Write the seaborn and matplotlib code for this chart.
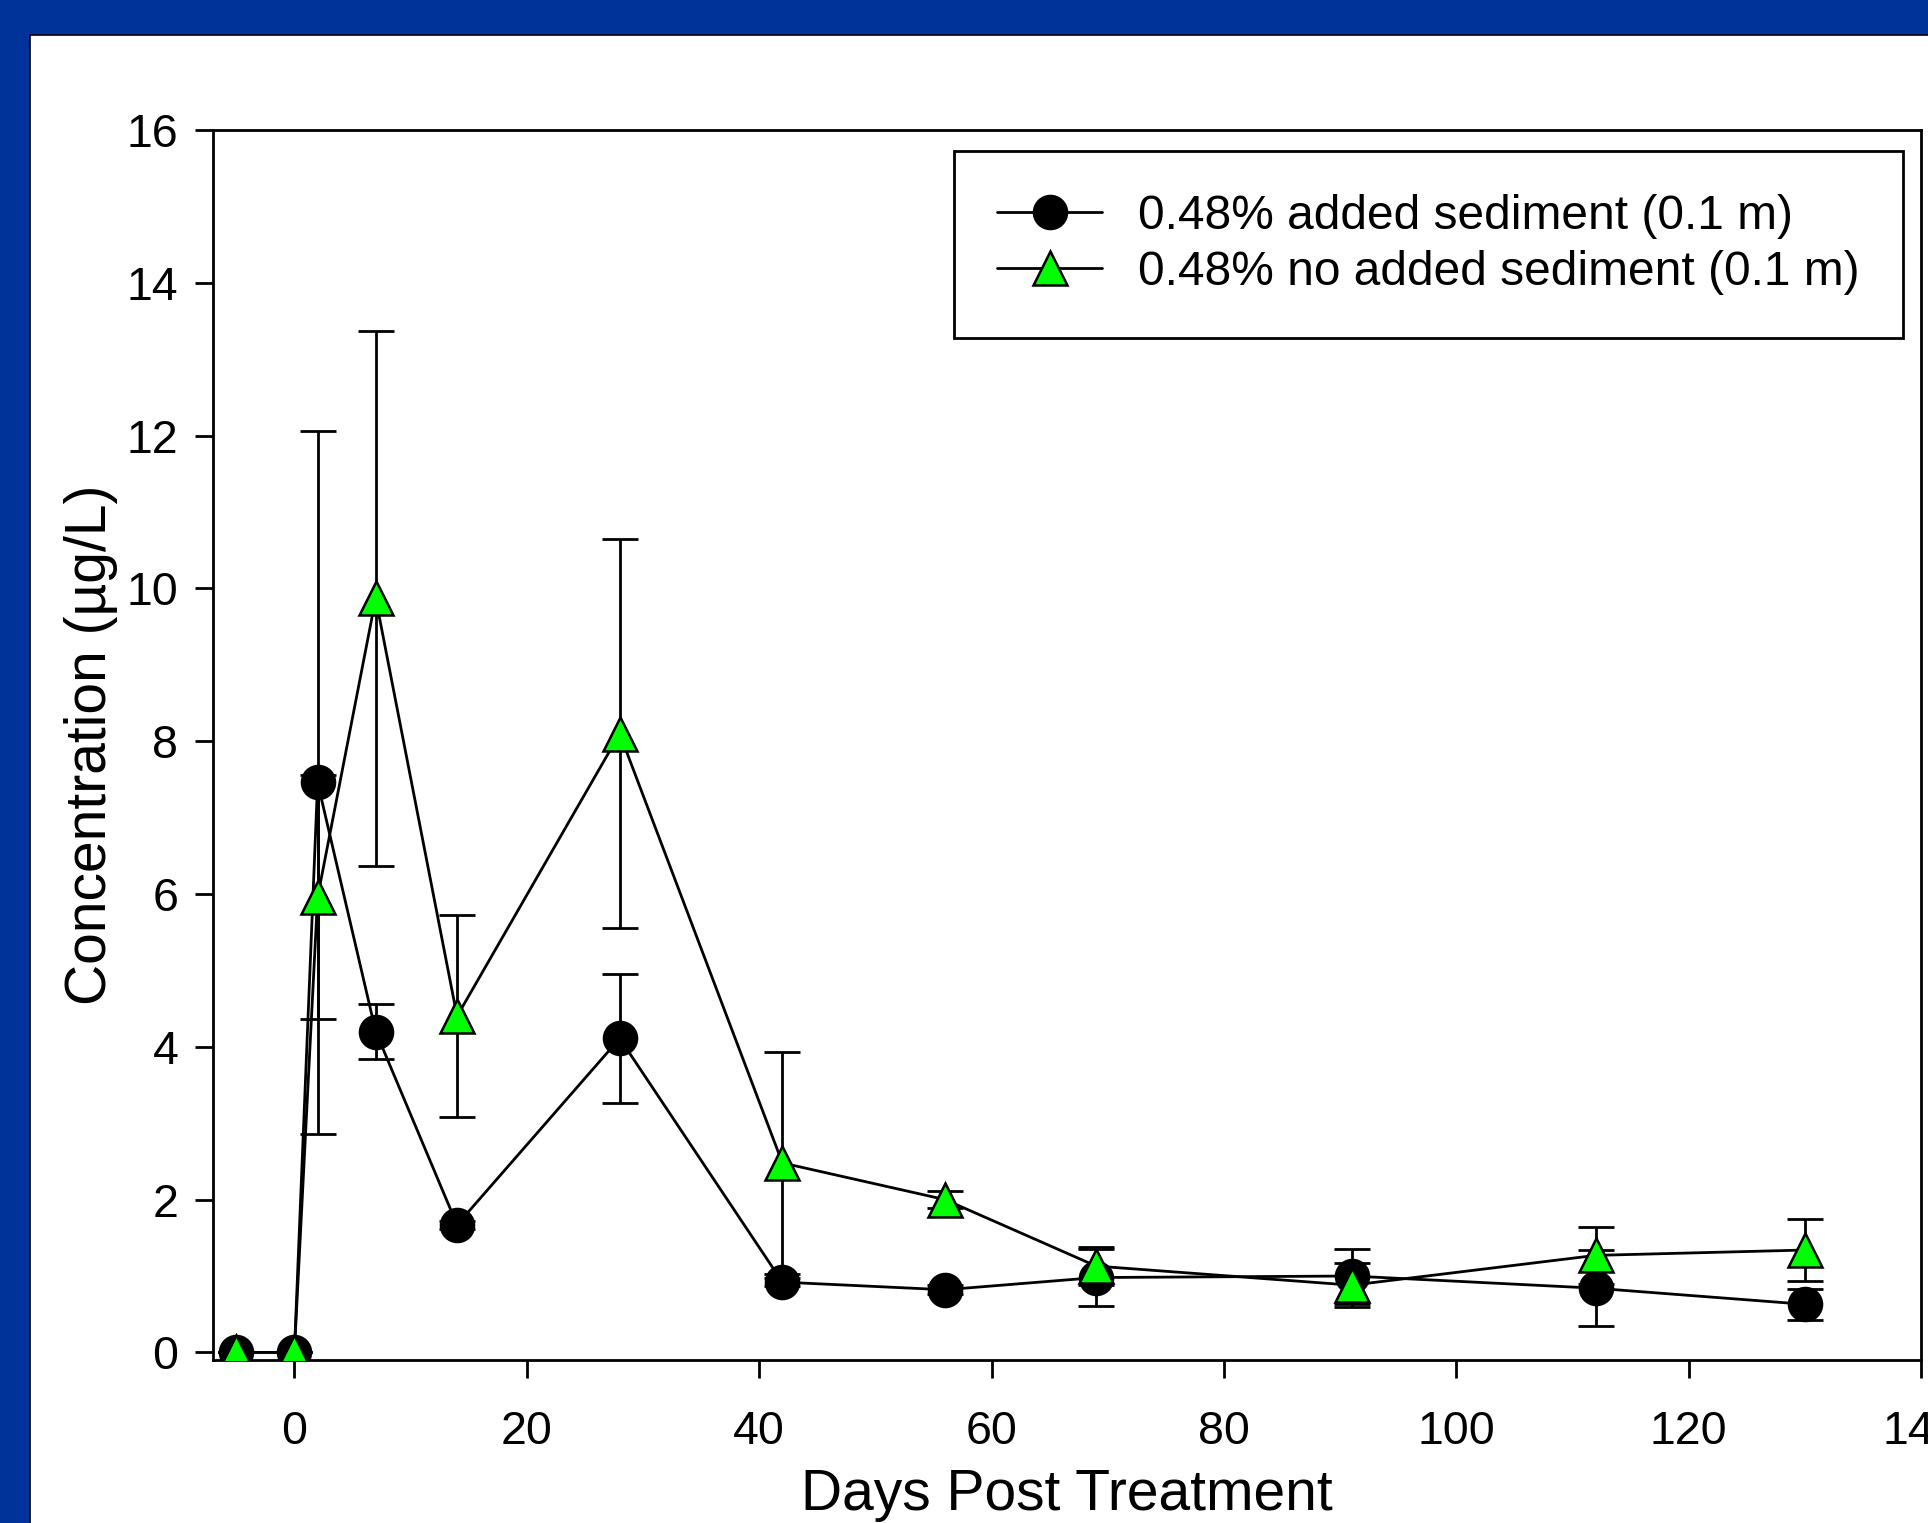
"""Concentration after treatment, with and without added sediment"""

import numpy as np
import pandas as pd
import matplotlib.pyplot as plt
import seaborn as sns
from matplotlib.patches import Rectangle

days = [-5, 0, 2, 7, 14, 28, 42, 56, 69, 91, 112, 130]

sed_mean = [0, 0, 7.46, 4.20, 1.67, 4.11, 0.92, 0.82, 0.98, 1.00, 0.84, 0.63]
sed_err = [0, 0, 4.60, 0.36, 0.05, 0.84, 0.05, 0.06, 0.37, 0.36, 0.50, 0.20]

nosed_mean = [0, 0, 5.96, 9.87, 4.40, 8.10, 2.48, 2.00, 1.13, 0.88, 1.27, 1.34]
nosed_err = [0, 0, 1.60, 3.50, 1.32, 2.55, 1.45, 0.11, 0.25, 0.29, 0.37, 0.40]

labels = ['0.48% added sediment (0.1 m)', '0.48% no added sediment (0.1 m)']
x_ticks = [0, 20, 40, 60, 80, 100, 120, 140]
y_ticks = [0, 2, 4, 6, 8, 10, 12, 14, 16]

sed_df = pd.DataFrame({'day': days, 'conc': sed_mean, 'err': sed_err})
nosed_df = pd.DataFrame({'day': days, 'conc': nosed_mean, 'err': nosed_err})

sns.set_style('ticks')
plt.rcParams['font.family'] = ['Liberation Sans', 'DejaVu Sans']
plt.rcParams['text.color'] = 'black'
plt.rcParams['axes.labelcolor'] = 'black'

fig = plt.figure(figsize=(19.28, 15.23), dpi=100)
fig.patch.set_facecolor('#003399')
# white panel inside the blue frame
panel = Rectangle((30 / 1928, -0.01), 1.0, 1 - 35 / 1523 + 0.01,
                  transform=fig.transFigure, facecolor='white',
                  edgecolor='black', linewidth=1.2, zorder=-5)
fig.add_artist(panel)

ax = fig.add_axes([0.1105, 0.1070, 0.8859, 0.8076])
ax.set_facecolor('white')

# error bars first, so markers sit on top
for df in (sed_df, nosed_df):
    ax.errorbar(df['day'], df['conc'], yerr=df['err'], fmt='none', ecolor='black',
                elinewidth=2.0, capsize=13, capthick=2.0, zorder=1)

sns.lineplot(x='day', y='conc', data=sed_df, ax=ax, color='black', linewidth=2.0,
             marker='o', markersize=24, markerfacecolor='black',
             markeredgecolor='black', markeredgewidth=1.6, label=labels[0], zorder=2)
sns.lineplot(x='day', y='conc', data=nosed_df, ax=ax, color='black', linewidth=2.0,
             marker='^', markersize=24, markerfacecolor='#00ff00',
             markeredgecolor='black', markeredgewidth=1.8, label=labels[1], zorder=3)

ax.set_xlim(-7, 140)
ax.set_ylim(-0.1, 16)
ax.set_xticks(x_ticks)
ax.set_yticks(y_ticks)
ax.tick_params(axis='both', direction='out', length=13, width=2.0, labelsize=33.5,
               colors='black')
ax.tick_params(axis='x', pad=23)
ax.tick_params(axis='y', pad=12)
for side in ax.spines.values():
    side.set_visible(True)
    side.set_linewidth(2.0)
    side.set_color('black')

ax.set_xlabel('Days Post Treatment', fontsize=41, labelpad=10)
ax.set_ylabel('Concentration (\u00b5g/L)', fontsize=41, labelpad=6)

leg = ax.legend(loc='upper right', bbox_to_anchor=(0.9895, 0.983), borderaxespad=0,
                fontsize=34.5, frameon=True, fancybox=False, edgecolor='black',
                framealpha=1, handlelength=2.2, labelspacing=0.22,
                borderpad=0.9, handletextpad=0.75)
leg.get_frame().set_linewidth(2.0)

fig.savefig('out.png', dpi=100, facecolor=fig.get_facecolor())
